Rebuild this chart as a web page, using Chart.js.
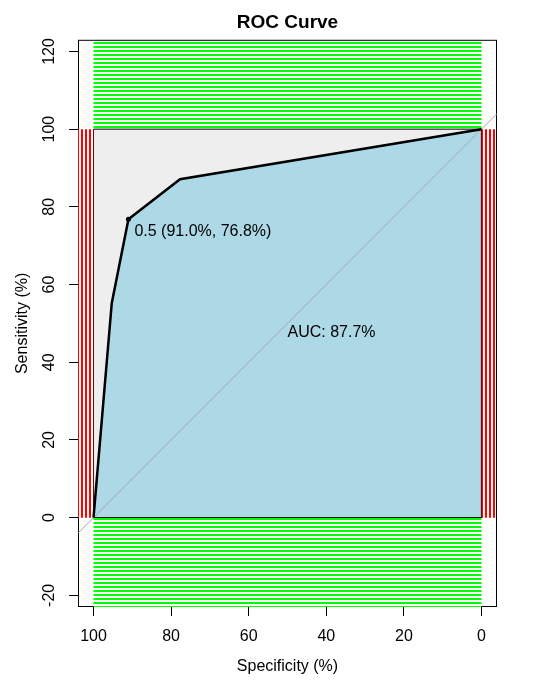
<!DOCTYPE html>
<html>
<head>
<meta charset="utf-8">
<script src="https://cdn.jsdelivr.net/npm/chart.js@4"></script>
<style>
  html, body { margin: 0; padding: 0; background: #fff; }
</style>
</head>
<body>
<canvas id="chart" width="537" height="686"></canvas>
<script>
// ROC curve (specificity %, sensitivity %)
const specificity = [100, 95.3, 91.0, 77.7, 0];
const sensitivity = [0, 55.2, 76.8, 87.1, 100];
const bestThreshold = 0.5;
const bestSpec = 91.0;
const bestSens = 76.8;
const aucValue = 87.7;
const xTicks = [0, 20, 40, 60, 80, 100];
const yTicks = [-20, 0, 20, 40, 60, 80, 100, 120];
const xRange = [-4, 104];
const yRange = [-23, 123];

const FONT = '"Liberation Sans", Arial, sans-serif';

function stripes(color, vertical) {
  const c = document.createElement('canvas');
  c.width = 4; c.height = 4;
  const g = c.getContext('2d');
  g.fillStyle = color;
  if (vertical) g.fillRect(1, 0, 2, 4);
  else g.fillRect(0, 2, 4, 2);
  return g.createPattern(c, 'repeat');
}

function rect(x0, x1, y0, y1) {
  return [{x: x0, y: y0}, {x: x1, y: y0}, {x: x1, y: y1}, {x: x0, y: y1}, {x: x0, y: y0}];
}

const rocPoints = specificity.map((s, i) => ({x: s, y: sensitivity[i]}));
const greenLines = stripes('#00ff00', false);
const redLines = stripes('#ff0000', true);

function hatch(data, pattern) {
  return {data, showLine: true, fill: 'shape', backgroundColor: pattern,
          borderWidth: 0, pointRadius: 0, order: 2};
}

const boxPlugin = {
  id: 'box',
  beforeDatasetsDraw(chart) {
    const a = chart.chartArea, ctx = chart.ctx;
    ctx.save();
    ctx.strokeStyle = '#000';
    ctx.lineWidth = 1;
    ctx.strokeRect(a.left + 0.5, a.top + 0.5, a.right - a.left - 1, a.bottom - a.top - 1);
    ctx.restore();
  }
};

const textPlugin = {
  id: 'labels',
  afterDatasetsDraw(chart) {
    const ctx = chart.ctx, xs = chart.scales.x, ys = chart.scales.y;
    ctx.save();
    ctx.fillStyle = '#000';
    ctx.font = '16px ' + FONT;
    ctx.textAlign = 'left';
    ctx.textBaseline = 'alphabetic';
    ctx.fillText('AUC: ' + aucValue.toFixed(1) + '%', xs.getPixelForValue(50), ys.getPixelForValue(50) + 14);
    ctx.fillText(bestThreshold.toFixed(1) + ' (' + bestSpec.toFixed(1) + '%, ' + bestSens.toFixed(1) + '%)',
      xs.getPixelForValue(bestSpec) + 6, ys.getPixelForValue(bestSens) + 17);
    ctx.restore();
  }
};

new Chart(document.getElementById('chart'), {
  type: 'scatter',
  data: {
    datasets: [
      {data: [{x: bestSpec, y: bestSens}], pointRadius: 2.5, pointBackgroundColor: '#000',
       pointBorderWidth: 0, showLine: false, order: 0},
      {data: rocPoints, showLine: true, borderColor: '#000', borderWidth: 2.5,
       pointRadius: 0, fill: false, order: 1},
      hatch(rect(0, 100, 100, yRange[1]), greenLines),
      hatch(rect(0, 100, yRange[0], 0), greenLines),
      hatch(rect(100, xRange[1], 0, 100), redLines),
      hatch(rect(xRange[0], 0, 0, 100), redLines),
      {data: [{x: xRange[0], y: 100 - xRange[0]}, {x: xRange[1], y: 100 - xRange[1]}],
       showLine: true, borderColor: '#aaaaaa', borderWidth: 1, pointRadius: 0, order: 3},
      {data: rocPoints.concat([{x: 0, y: 0}, {x: 100, y: 0}]), showLine: true, fill: 'shape',
       backgroundColor: '#add8e6', borderColor: '#000', borderWidth: 1, pointRadius: 0, order: 4},
      {data: rect(0, 100, 0, 100), showLine: true, fill: 'shape', backgroundColor: '#eeeeee',
       borderColor: '#000', borderWidth: 1, pointRadius: 0, order: 5}
    ]
  },
  options: {
    responsive: false,
    animation: false,
    events: [],
    layout: {padding: {top: 0, right: 40, bottom: 0, left: 0}},
    elements: {line: {tension: 0}},
    plugins: {
      legend: {display: false},
      tooltip: {enabled: false},
      title: {
        display: true, text: 'ROC Curve', fullSize: false, color: '#000',
        font: {size: 19, weight: 'bold', family: FONT},
        padding: {top: 11, bottom: 6}
      }
    },
    scales: {
      x: {
        type: 'linear', position: 'bottom', reverse: true,
        min: xRange[0], max: xRange[1],
        afterBuildTicks: s => { s.ticks = xTicks.map(v => ({value: v})); },
        afterFit: s => { s.height = 79; },
        grid: {drawOnChartArea: false, drawTicks: true, tickLength: 9, color: '#000', lineWidth: 1},
        border: {display: false},
        ticks: {color: '#000', font: {size: 16, family: FONT}, padding: 11, autoSkip: false, maxRotation: 0},
        title: {display: true, text: 'Specificity (%)', color: '#000',
                font: {size: 16, family: FONT}, padding: {top: 0, bottom: 10}}
      },
      y: {
        type: 'linear', position: 'left',
        min: yRange[0], max: yRange[1],
        afterBuildTicks: s => { s.ticks = yTicks.map(v => ({value: v})); },
        afterFit: s => { s.width = 78; },
        grid: {drawOnChartArea: false, drawTicks: true, tickLength: 9, color: '#000', lineWidth: 1},
        border: {display: false},
        ticks: {color: '#000', font: {size: 16, family: FONT}, padding: 6, autoSkip: false,
                minRotation: 90, maxRotation: 90, crossAlign: 'center'},
        title: {display: true, text: 'Sensitivity (%)', color: '#000',
                font: {size: 16, family: FONT}, padding: {top: 13, bottom: 0}}
      }
    }
  },
  plugins: [boxPlugin, textPlugin]
});
</script>
</body>
</html>
